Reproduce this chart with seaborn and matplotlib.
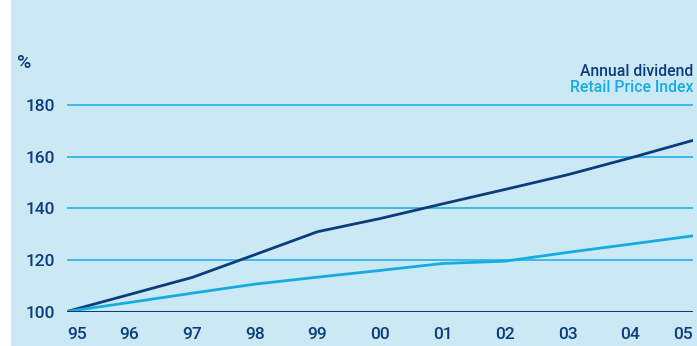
import matplotlib
matplotlib.use("Agg")
import matplotlib.pyplot as plt
from matplotlib.patches import Rectangle
import pandas as pd
import seaborn as sns

# Index values, 1995 = 100
years = [1995, 1996, 1997, 1998, 1999, 2000, 2001, 2002, 2003, 2004, 2005]
year_labels = ["95", "96", "97", "98", "99", "00", "01", "02", "03", "04", "05"]
dividend = [100, 106.6, 113.2, 122.0, 130.9, 136.0, 141.7, 147.3, 153.0, 159.5, 166.3]
rpi = [100, 103.5, 107.1, 110.6, 113.3, 115.9, 118.6, 119.5, 122.9, 126.1, 129.3]
series_names = ["Annual dividend", "Retail Price Index"]
y_ticks = [100, 120, 140, 160, 180]

NAVY = "#0c3c7c"
CYAN = "#16ace2"
PANEL = "#cae9f5"

df = pd.DataFrame({
    "year": years * 2,
    "value": dividend + rpi,
    "series": [series_names[0]] * len(years) + [series_names[1]] * len(years),
})

sns.set_style("white")
plt.rcParams["font.family"] = ["Roboto", "DejaVu Sans"]
plt.rcParams["font.weight"] = "medium"

fig = plt.figure(figsize=(6.97, 3.46), dpi=100, facecolor="white")
fig.patches.append(Rectangle((11 / 697, 0), 1, 1, transform=fig.transFigure,
                             facecolor=PANEL, edgecolor="none", zorder=-10))

ax = fig.add_axes([67 / 697, 34.5 / 346, 626 / 697, 219.4 / 346])
ax.set_facecolor("none")

sns.lineplot(data=df, x="year", y="value", hue="series",
             palette={series_names[0]: NAVY, series_names[1]: CYAN},
             linewidth=2.0, legend=False, ax=ax, zorder=4)

for t in y_ticks[1:]:
    ax.axhline(t, color=CYAN, lw=1.1, zorder=1)
ax.axhline(y_ticks[0], color=NAVY, lw=2.2, zorder=5)

ax.set_xlim(years[0], years[-1])
ax.set_ylim(100, 185)
ax.set_yticks(y_ticks)
ax.set_yticklabels([str(t) for t in y_ticks])
ax.set_xticks(years)
ax.set_xticklabels(year_labels)
ax.tick_params(axis="both", length=0, colors=NAVY, labelsize=12.5)
ax.tick_params(axis="y", pad=8.5)
ax.tick_params(axis="x", pad=11)
xl = ax.get_xticklabels()
xl[0].set_ha("left")
xl[-1].set_ha("right")
for s in ax.spines.values():
    s.set_visible(False)
ax.set_xlabel("")
ax.set_ylabel("")

fig.text(17 / 697, 1 - 63 / 346, "%", color=NAVY, fontsize=14,
         ha="left", va="center")
fig.text(693 / 697, 1 - 71 / 346, series_names[0], color=NAVY, fontsize=11.3,
         ha="right", va="center")
fig.text(693 / 697, 1 - 87 / 346, series_names[1], color=CYAN, fontsize=11.3,
         ha="right", va="center")

fig.savefig("out.png", dpi=100, facecolor=fig.get_facecolor())
